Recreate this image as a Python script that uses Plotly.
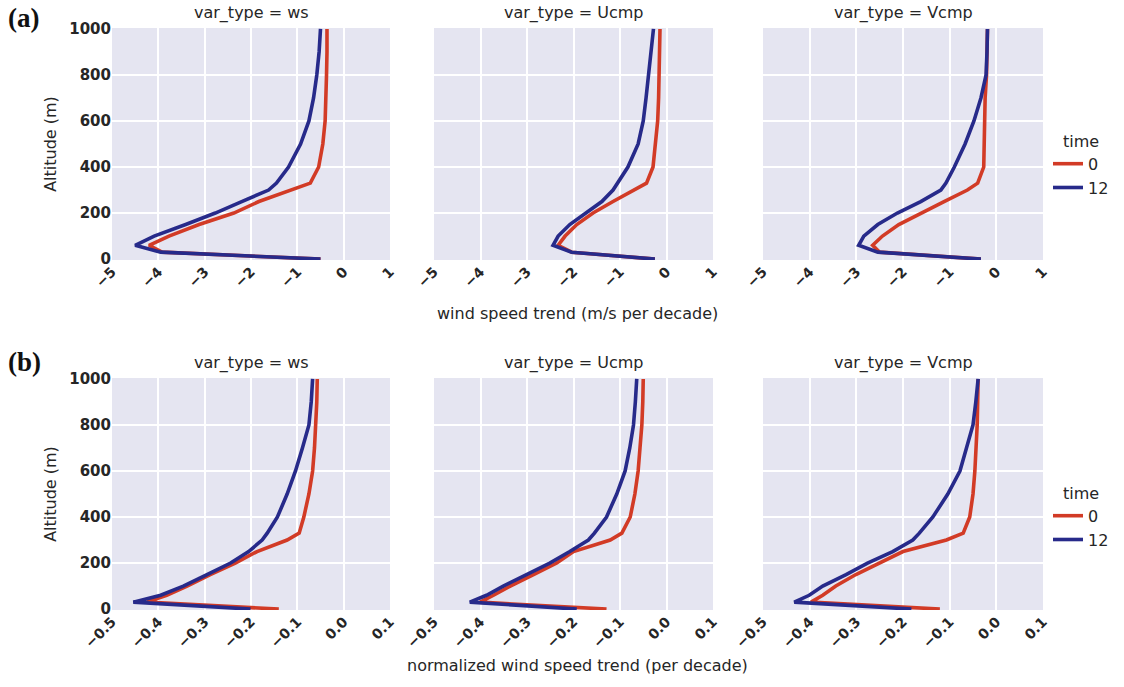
import plotly.graph_objects as go

# ---------------- data ----------------
altitude = [0, 30, 60, 100, 150, 200, 250, 300, 330, 400, 500, 600, 700, 800, 900, 1000]
var_types = ["ws", "Ucmp", "Vcmp"]
times = ["0", "12"]

# (a) wind speed trend (m/s per decade)
ws_t0 = [-0.50, -3.92, -4.20, -3.77, -3.12, -2.37, -1.83, -1.12, -0.72, -0.54, -0.45, -0.40, -0.38, -0.37, -0.36, -0.36]
ws_t12 = [-0.50, -3.95, -4.50, -4.09, -3.41, -2.77, -2.20, -1.62, -1.45, -1.19, -0.93, -0.75, -0.65, -0.58, -0.53, -0.50]
ucmp_t0 = [-0.25, -2.04, -2.33, -2.18, -1.93, -1.58, -1.15, -0.72, -0.43, -0.29, -0.24, -0.19, -0.17, -0.16, -0.15, -0.14]
ucmp_t12 = [-0.25, -2.04, -2.44, -2.33, -2.08, -1.75, -1.39, -1.15, -1.05, -0.83, -0.61, -0.50, -0.44, -0.39, -0.33, -0.28]
vcmp_t0 = [-0.33, -2.50, -2.65, -2.44, -2.09, -1.62, -1.12, -0.62, -0.40, -0.27, -0.26, -0.26, -0.24, -0.21, -0.20, -0.19]
vcmp_t12 = [-0.33, -2.54, -2.95, -2.84, -2.54, -2.12, -1.62, -1.19, -1.08, -0.90, -0.67, -0.48, -0.33, -0.22, -0.20, -0.19]

# (b) normalized wind speed trend (per decade)
nws_t0 = [-0.140, -0.425, -0.382, -0.338, -0.288, -0.234, -0.187, -0.122, -0.096, -0.086, -0.075, -0.067, -0.063, -0.060, -0.058, -0.057]
nws_t12 = [-0.201, -0.454, -0.395, -0.346, -0.295, -0.244, -0.205, -0.176, -0.165, -0.143, -0.122, -0.104, -0.089, -0.075, -0.070, -0.067]
nucmp_t0 = [-0.129, -0.401, -0.372, -0.336, -0.286, -0.236, -0.200, -0.121, -0.096, -0.078, -0.068, -0.061, -0.057, -0.053, -0.051, -0.050]
nucmp_t12 = [-0.193, -0.423, -0.387, -0.351, -0.301, -0.251, -0.208, -0.168, -0.155, -0.129, -0.107, -0.089, -0.079, -0.071, -0.067, -0.064]
nvcmp_t0 = [-0.121, -0.397, -0.372, -0.344, -0.301, -0.251, -0.200, -0.107, -0.071, -0.057, -0.050, -0.046, -0.043, -0.041, -0.040, -0.039]
nvcmp_t12 = [-0.182, -0.433, -0.401, -0.372, -0.322, -0.276, -0.222, -0.179, -0.165, -0.136, -0.104, -0.078, -0.064, -0.050, -0.044, -0.039]

x_ticks_a = [-5, -4, -3, -2, -1, 0, 1]
x_ticks_b = [-0.5, -0.4, -0.3, -0.2, -0.1, 0.0, 0.1]
y_ticks = [0, 200, 400, 600, 800, 1000]

row_a = [(ws_t0, ws_t12), (ucmp_t0, ucmp_t12), (vcmp_t0, vcmp_t12)]
row_b = [(nws_t0, nws_t12), (nucmp_t0, nucmp_t12), (nvcmp_t0, nvcmp_t12)]

# ---------------- style / layout ----------------
W, H = 1124, 687
RED = "#D23B26"
BLUE = "#272A8A"
BG = "#E5E5F1"
TXT = "#262626"
FONT = "DejaVu Sans"

col_px = [(112, 390), (434, 713), (763, 1043)]
row_px = [(28, 260), (378, 610)]


def fx(p):
    return p / W


def fy(p):
    return 1 - p / H


fig = go.Figure()
layout = dict(
    width=W, height=H,
    margin=dict(l=0, r=0, t=0, b=0, autoexpand=False),
    paper_bgcolor="white",
    plot_bgcolor=BG,
    font=dict(family=FONT, size=16, color=TXT),
    annotations=[],
)

idx = 0
for r, (rows, xt, xr, fmt) in enumerate([
    (row_a, x_ticks_a, [-5, 1], "d"),
    (row_b, x_ticks_b, [-0.5, 0.1], ".1f"),
]):
    for c in range(3):
        idx += 1
        xa = "xaxis" if idx == 1 else f"xaxis{idx}"
        ya = "yaxis" if idx == 1 else f"yaxis{idx}"
        xref = "x" if idx == 1 else f"x{idx}"
        yref = "y" if idx == 1 else f"y{idx}"
        legend_name = "legend" if r == 0 else "legend2"
        s0, s12 = rows[c]
        for vals, name, color in [(s0, times[0], RED), (s12, times[1], BLUE)]:
            fig.add_trace(go.Scatter(
                x=vals, y=altitude, mode="lines", name=name,
                line=dict(color=color, width=3.6),
                xaxis=xref, yaxis=yref,
                legend=legend_name,
                showlegend=(c == 0),
            ))
        layout[xa] = dict(
            domain=[fx(col_px[c][0]), fx(col_px[c][1])],
            anchor=yref, range=xr, tickvals=xt, tickformat=fmt,
            tickangle=-45, showgrid=True, gridcolor="white", gridwidth=2,
            zeroline=False, showline=False, ticks="", automargin=False,
            tickfont=dict(size=14, family=FONT, color=TXT, weight="bold"),
        )
        layout[ya] = dict(
            domain=[fy(row_px[r][1]), fy(row_px[r][0])],
            anchor=xref, range=[-4, 1004], tickvals=y_ticks,
            showgrid=True, gridcolor="white", gridwidth=2,
            zeroline=False, showline=False, ticks="", automargin=False,
            showticklabels=(c == 0),
            tickfont=dict(size=15, family=FONT, color=TXT, weight="bold"),
        )
        if c == 0:
            layout[ya]["title"] = dict(text="Altitude (m)", font=dict(size=16, color=TXT), standoff=8)
        # facet title
        layout["annotations"].append(dict(
            text=f"var_type = {var_types[c]}", xref="paper", yref="paper",
            x=fx((col_px[c][0] + col_px[c][1]) / 2), y=fy(row_px[r][0] - 3),
            xanchor="center", yanchor="bottom", showarrow=False,
            font=dict(size=16, color=TXT),
        ))

# x-axis titles
layout["annotations"].append(dict(
    text="wind speed trend (m/s per decade)", xref="paper", yref="paper",
    x=fx(577), y=fy(313), xanchor="center", yanchor="middle", showarrow=False,
    font=dict(size=16, color=TXT),
))
layout["annotations"].append(dict(
    text="normalized wind speed trend (per decade)", xref="paper", yref="paper",
    x=fx(577), y=fy(665), xanchor="center", yanchor="middle", showarrow=False,
    font=dict(size=16, color=TXT),
))
# panel labels
for lab, yp in [("(a)", 18), ("(b)", 362)]:
    layout["annotations"].append(dict(
        text=f"<b>{lab}</b>", xref="paper", yref="paper",
        x=fx(6), y=fy(yp), xanchor="left", yanchor="middle", showarrow=False,
        font=dict(size=27, family="Liberation Serif", color="#111111"),
    ))

legend_style = dict(
    xanchor="left", yanchor="top", bgcolor="rgba(0,0,0,0)",
    font=dict(size=16, color=TXT),
    title=dict(text="time", side="top center", font=dict(size=16, color=TXT)),
    tracegroupgap=0, itemwidth=30,
)
layout["legend"] = dict(x=fx(1048), y=fy(126), **legend_style)
layout["legend2"] = dict(x=fx(1048), y=fy(478), **legend_style)

fig.update_layout(**layout)
fig.write_html(
    "out.html",
    config={"displayModeBar": False},
    post_script="document.body.style.margin='0';document.body.style.overflow='hidden';",
)
